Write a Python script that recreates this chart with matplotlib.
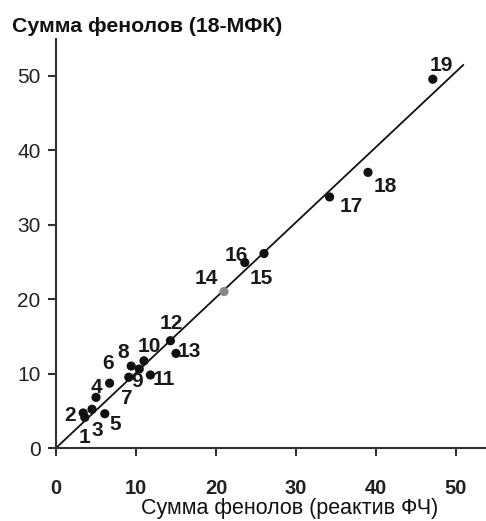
import matplotlib
matplotlib.use("Agg")
import matplotlib.pyplot as plt

plt.rcParams['font.family'] = ['Liberation Sans', 'DejaVu Sans']

# Data
labels = [str(i) for i in range(1, 20)]
x_fc = [3.6, 3.4, 4.5, 5.0, 6.1, 6.7, 9.1, 9.4, 10.4, 11.0, 11.8, 14.3, 15.0, 21.0, 26.0, 23.6, 34.2, 39.0, 47.1]
y_mfk = [4.1, 4.7, 5.2, 6.8, 4.6, 8.7, 9.5, 11.0, 10.6, 11.7, 9.8, 14.4, 12.7, 21.0, 26.1, 24.9, 33.7, 37.0, 49.5]
fit_x = [0, 50.9]
fit_slope = 1.01
xticks = [0, 10, 20, 30, 40, 50]
yticks = [0, 10, 20, 30, 40, 50]

# Label offsets (pixels) - layout only
offsets = [(0, -20), (-13, -3), (5, -21), (0, 10), (10, -11), (-2, 20), (-3, -21),
           (-8, 14), (-2, -12), (5, 14), (13, -5), (1, 17), (13, 2), (-18, 13),
           (-3, -25), (-8, 7), (22, -10), (17, -14), (9, 14)]

fig = plt.figure(figsize=(4.86, 5.21), dpi=100)
ax = fig.add_axes([56/486, 73/521, 430/486, 409/521])

colors = ['#111111'] * len(x_fc)
colors[13] = '#888888'
ax.scatter(x_fc, y_mfk, s=44, c=colors, zorder=3, linewidths=0)
ax.plot(fit_x, [v * fit_slope for v in fit_x], color='#111111', lw=1.3, zorder=2)

for lab, xv, yv, off in zip(labels, x_fc, y_mfk, offsets):
    ax.annotate(lab, (xv, yv), xytext=off, textcoords='offset pixels',
                ha='center', va='center', fontsize=15, fontweight='bold', color='#1a1a1a')

ax.set_xlim(0, 53.75)
ax.set_ylim(0, 54.9)
ax.set_xticks(xticks)
ax.set_yticks(yticks)
for s in ['top', 'right']:
    ax.spines[s].set_visible(False)
for s in ['left', 'bottom']:
    ax.spines[s].set_linewidth(1.5)
    ax.spines[s].set_color('#333333')
ax.tick_params(axis='y', direction='out', length=6, width=1.5, pad=5, labelsize=15, colors='#333333', labelcolor='#222222')
ax.tick_params(axis='x', direction='out', length=6, width=1.5, pad=16, labelsize=14.5, colors='#333333', labelcolor='#222222')
for t in ax.get_xticklabels():
    t.set_fontweight('bold')

fig.text(12/486, 1 - 26/521, 'Сумма фенолов (18-МФК)', ha='left', va='center',
         fontsize=15.3, fontweight='bold', color='#111111')
fig.text(290/486, 1 - 514/521, 'Сумма фенолов (реактив ФЧ)', ha='center', va='baseline',
         fontsize=15.5, color='#111111')

fig.savefig('out.png', dpi=100)
